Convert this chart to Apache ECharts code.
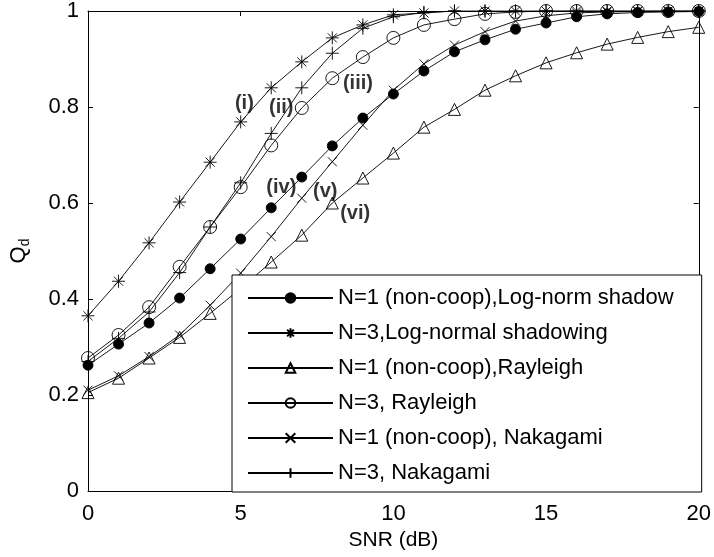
<!DOCTYPE html>
<html>
<head>
<meta charset="utf-8">
<script src="https://cdn.jsdelivr.net/npm/echarts@6/dist/echarts.min.js"></script>
<style>
  html, body { margin: 0; padding: 0; background: #fff; }
  #chart { width: 714px; height: 557px; }
</style>
</head>
<body>
<div id="chart"></div>
<script>
// SNR axis (dB)
var snr = [0, 1, 2, 3, 4, 5, 6, 7, 8, 9, 10, 11, 12, 13, 14, 15, 16, 17, 18, 19, 20];

// Q_d values
var lognormN1   = [0.262, 0.306, 0.350, 0.402, 0.463, 0.525, 0.590, 0.654, 0.719, 0.777, 0.827, 0.875, 0.915, 0.940, 0.962, 0.975, 0.988, 0.994, 0.997, 0.998, 0.999];
var lognormN3   = [0.365, 0.437, 0.517, 0.602, 0.685, 0.769, 0.840, 0.894, 0.944, 0.971, 0.992, 0.996, 1.000, 1.000, 1.000, 1.000, 1.000, 1.000, 1.000, 1.000, 1.000];
var rayleighN1  = [0.205, 0.235, 0.277, 0.320, 0.370, 0.422, 0.477, 0.533, 0.600, 0.652, 0.704, 0.758, 0.795, 0.835, 0.865, 0.892, 0.913, 0.931, 0.945, 0.957, 0.966];
var rayleighN3  = [0.277, 0.325, 0.383, 0.467, 0.550, 0.633, 0.720, 0.798, 0.860, 0.904, 0.944, 0.971, 0.983, 0.994, 0.998, 1.000, 1.000, 1.000, 1.000, 1.000, 1.000];
var nakagamiN1  = [0.210, 0.240, 0.280, 0.325, 0.387, 0.454, 0.530, 0.610, 0.686, 0.762, 0.835, 0.890, 0.929, 0.957, 0.979, 0.990, 0.996, 0.998, 0.999, 1.000, 1.000];
var nakagamiN3  = [0.270, 0.318, 0.373, 0.455, 0.550, 0.642, 0.745, 0.840, 0.912, 0.964, 0.988, 0.997, 1.000, 1.000, 1.000, 1.000, 1.000, 1.000, 1.000, 1.000, 1.000];

var seriesNames = [
    'N=1 (non-coop),Log-norm shadow',
    'N=3,Log-normal shadowing',
    'N=1 (non-coop),Rayleigh',
    'N=3, Rayleigh',
    'N=1 (non-coop), Nakagami',
    'N=3, Nakagami'
];

// curve labels and where they sit (SNR, Q_d)
var curveLabels = ['(i)', '(ii)', '(iii)', '(iv)', '(v)', '(vi)'];
var curveLabelX = [5.12, 6.33, 8.84, 6.33, 7.77, 8.75];
var curveLabelY = [0.808, 0.800, 0.850, 0.633, 0.625, 0.579];

var xTicks = { min: 0, max: 20, interval: 5 };
var yTicks = { min: 0, max: 1, interval: 0.2 };

var FONT = 'Liberation Sans, Arial, sans-serif';

var starPath  = 'path://M0,5L10,5M5,0L5,10M1.5,1.5L8.5,8.5M1.5,8.5L8.5,1.5';
var crossPath = 'path://M0,0L10,10M0,10L10,0';
var plusPath  = 'path://M0,5L10,5M5,0L5,10';

function pairs(ys) {
    return snr.map(function (x, i) { return [x, ys[i]]; });
}

function lineSeries(name, ys, symbol, size, filled) {
    return {
        name: name,
        type: 'line',
        data: pairs(ys),
        symbol: symbol,
        symbolSize: size,
        showAllSymbol: true,
        animation: false,
        lineStyle: { color: '#000', width: 0.9 },
        itemStyle: {
            color: filled ? '#000' : 'rgba(0,0,0,0)',
            borderColor: '#000',
            borderWidth: 0.9
        },
        emphasis: { disabled: true },
        z: 2
    };
}

var myChart = echarts.init(document.getElementById('chart'));

var option = {
    backgroundColor: '#fff',
    animation: false,
    textStyle: { fontFamily: FONT },
    grid: { left: 87, right: 14, top: 11, bottom: 66 },
    legend: {
        data: seriesNames,
        orient: 'vertical',
        left: 232,
        top: 275,
        itemWidth: 85,
        itemHeight: 12,
        itemGap: 13,
        padding: [12, 28, 8, 15],
        backgroundColor: '#fff',
        borderColor: '#000',
        borderWidth: 1,
        borderRadius: 0,
        selectedMode: false,
        textStyle: { fontFamily: FONT, fontSize: 22, lineHeight: 22, color: '#000' }
    },
    xAxis: [{
        type: 'value',
        min: xTicks.min, max: xTicks.max, interval: xTicks.interval,
        name: 'SNR (dB)',
        nameLocation: 'middle',
        nameGap: 39,
        nameTextStyle: { fontSize: 21, color: '#000', fontFamily: FONT },
        axisLine: { onZero: false, lineStyle: { color: '#000', width: 1 } },
        axisTick: { inside: true, length: 5, lineStyle: { color: '#000' } },
        axisLabel: { fontSize: 22, color: '#000', margin: 12, fontFamily: FONT },
        splitLine: { show: false }
    }, {
        type: 'value', position: 'top',
        min: xTicks.min, max: xTicks.max, interval: xTicks.interval,
        axisLine: { onZero: false, lineStyle: { color: '#000', width: 1 } },
        axisTick: { inside: true, length: 5, lineStyle: { color: '#000' } },
        axisLabel: { show: false },
        splitLine: { show: false }
    }],
    yAxis: [{
        type: 'value',
        min: yTicks.min, max: yTicks.max, interval: yTicks.interval,
        name: '{q|Q}{d|d}',
        nameLocation: 'middle',
        nameGap: 56,
        nameTextStyle: {
            rich: {
                q: { fontSize: 22, color: '#000', fontFamily: FONT },
                d: { fontSize: 14, color: '#000', fontFamily: FONT, padding: [12, 0, 0, 0] }
            }
        },
        axisLine: { onZero: false, lineStyle: { color: '#000', width: 1 } },
        axisTick: { inside: true, length: 5, lineStyle: { color: '#000' } },
        axisLabel: { fontSize: 22, color: '#000', margin: 9, fontFamily: FONT },
        splitLine: { show: false }
    }, {
        type: 'value', position: 'right',
        min: yTicks.min, max: yTicks.max, interval: yTicks.interval,
        axisLine: { onZero: false, lineStyle: { color: '#000', width: 1 } },
        axisTick: { inside: true, length: 5, lineStyle: { color: '#000' } },
        axisLabel: { show: false },
        splitLine: { show: false }
    }],
    series: [
        lineSeries(seriesNames[0], lognormN1, 'circle', 10, true),
        lineSeries(seriesNames[1], lognormN3, starPath, 13, true),
        lineSeries(seriesNames[2], rayleighN1, 'triangle', 12, false),
        lineSeries(seriesNames[3], rayleighN3, 'circle', 13, false),
        lineSeries(seriesNames[4], nakagamiN1, crossPath, 9, true),
        lineSeries(seriesNames[5], nakagamiN3, plusPath, 13, true),
        {
            name: 'labels',
            type: 'scatter',
            symbolSize: 0,
            silent: true,
            animation: false,
            data: curveLabels.map(function (t, i) {
                return { name: t, value: [curveLabelX[i], curveLabelY[i]] };
            }),
            label: {
                show: true,
                position: 'inside',
                formatter: '{b}',
                fontFamily: FONT,
                fontSize: 20,
                fontWeight: 'bold',
                color: '#000'
            },
            z: 3
        }
    ]
};

myChart.setOption(option);
window.onresize = function () {
    myChart.resize();
};
</script>
</body>
</html>
